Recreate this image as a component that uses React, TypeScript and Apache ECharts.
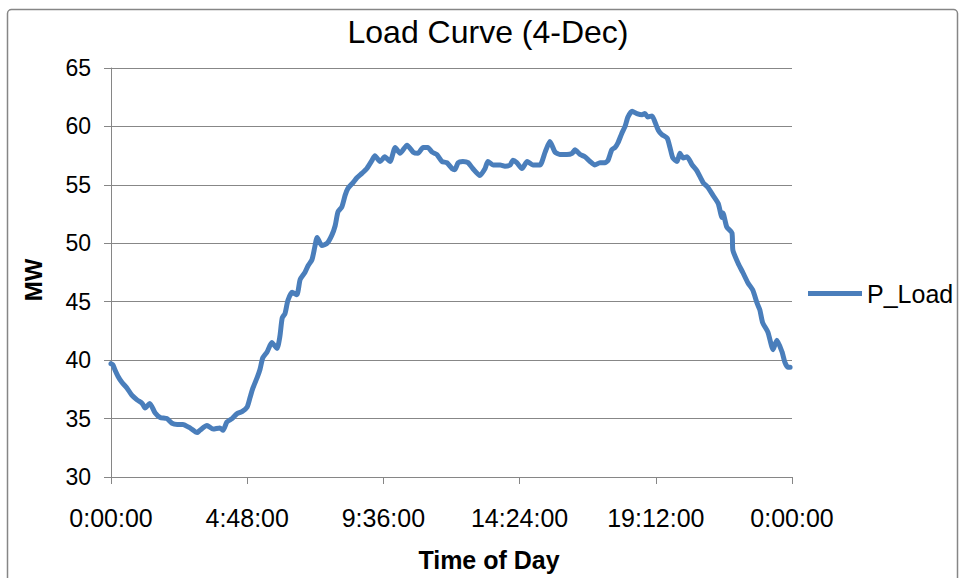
import React, { useEffect, useRef } from "react";
import * as echarts from "echarts";

// Minutes after midnight for each reading
const minutes = [
  0, 4, 8, 15, 23, 34, 44, 55, 66, 72, 82, 93, 104, 118, 129, 140, 152, 167, 182, 188,
  203, 216, 230, 237, 245, 256, 266, 277, 288, 294, 300, 309, 315, 321, 330, 340, 351, 357, 362, 368,
  374, 383, 393, 400, 410, 417, 425, 431, 436, 446, 457, 467, 474, 480, 488, 495, 501, 512, 520, 531,
  541, 552, 558, 569, 579, 590, 601, 611, 626, 639, 649, 660, 670, 679, 689, 700, 710, 721, 727, 734,
  744, 755, 765, 780, 791, 797, 808, 823, 833, 844, 850, 858, 869, 880, 892, 907, 918, 928, 939, 949,
  964, 975, 981, 992, 1002, 1013, 1023, 1034, 1045, 1051, 1059, 1066, 1072, 1080, 1087, 1093, 1102, 1112, 1123, 1129,
  1135, 1144, 1150, 1157, 1165, 1176, 1182, 1188, 1197, 1203, 1210, 1218, 1229, 1239, 1252, 1262, 1273, 1284, 1292, 1294,
  1302, 1313, 1315, 1326, 1336, 1347, 1357, 1366, 1372, 1378, 1389, 1400, 1408, 1419, 1425, 1431, 1436,
];

// Load in MW at each reading
const pLoad = [
  39.7, 39.6, 39.2, 38.6, 38.1, 37.6, 37.0, 36.6, 36.3, 35.9, 36.3, 35.5, 35.1, 35.0, 34.6, 34.5, 34.5, 34.2, 33.8, 34.0,
  34.4, 34.1, 34.2, 34.0, 34.7, 35.0, 35.4, 35.6, 36.0, 36.8, 37.6, 38.5, 39.2, 40.2, 40.7, 41.5, 41.0, 42.0, 43.6, 44.0,
  45.1, 45.8, 45.6, 46.9, 47.5, 48.1, 48.6, 49.7, 50.5, 49.8, 50.0, 50.7, 51.5, 52.7, 53.1, 54.1, 54.7, 55.2, 55.6, 56.0,
  56.4, 57.1, 57.5, 57.0, 57.4, 57.0, 58.2, 57.7, 58.4, 57.8, 57.7, 58.2, 58.2, 57.8, 57.6, 57.0, 56.9, 56.4, 56.3, 56.9,
  57.0, 56.9, 56.4, 55.8, 56.4, 57.0, 56.7, 56.7, 56.6, 56.7, 57.1, 56.9, 56.4, 57.0, 56.7, 56.7, 57.8, 58.7, 57.8, 57.6,
  57.6, 57.7, 58.0, 57.6, 57.4, 57.0, 56.7, 56.9, 56.9, 57.1, 58.0, 58.2, 58.6, 59.4, 60.0, 60.8, 61.3, 61.1, 61.0, 61.1,
  60.8, 60.9, 60.4, 59.7, 59.3, 59.0, 58.2, 57.3, 57.0, 57.7, 57.3, 57.4, 56.7, 56.2, 55.2, 54.8, 54.1, 53.4, 52.2, 52.6,
  51.4, 50.9, 49.4, 48.3, 47.5, 46.6, 46.0, 44.9, 44.3, 43.2, 42.4, 40.9, 41.7, 40.7, 39.8, 39.4, 39.4,
];

const seriesName = "P_Load";
const chartTitle = "Load Curve (4-Dec)";
const xAxisTitle = "Time of Day";
const yAxisTitle = "MW";

const FONT = "'Liberation Sans', Arial, sans-serif";
const LINE_BLUE = "#4A7EBB";

function formatTime(m: number): string {
  const total = Math.round(m) % 1440;
  const h = Math.floor(total / 60);
  const mm = total % 60;
  return `${h}:${mm < 10 ? "0" : ""}${mm}:00`;
}

export default function App() {
  const ref = useRef<HTMLDivElement>(null);

  useEffect(() => {
    if (!ref.current) return;
    const chart = echarts.init(ref.current, null, { renderer: "svg" });
    const data = minutes.map((m, i) => [m, pLoad[i]]);

    chart.setOption({
      animation: false,
      backgroundColor: "#ffffff",
      grid: { left: 111, right: 169, top: 68, bottom: 101, containLabel: false },
      xAxis: {
        type: "value",
        min: 0,
        max: 1440,
        interval: 288,
        axisLine: { show: true, lineStyle: { color: "#868686", width: 1 } },
        axisTick: { show: true, length: 7, lineStyle: { color: "#868686" } },
        axisLabel: {
          formatter: (v: number) => formatTime(v),
          margin: 28,
          fontSize: 25,
          fontFamily: FONT,
          color: "#000000",
        },
        splitLine: { show: false },
      },
      yAxis: {
        type: "value",
        min: 30,
        max: 65,
        interval: 5,
        axisLine: { show: true, lineStyle: { color: "#868686", width: 1 } },
        axisTick: { show: true, inside: false, length: 7, lineStyle: { color: "#868686" } },
        axisLabel: {
          margin: 20,
          fontSize: 23,
          fontFamily: FONT,
          color: "#000000",
        },
        splitLine: { show: true, lineStyle: { color: "#878787", width: 1 } },
      },
      legend: {
        show: true,
        left: 808,
        top: 281,
        padding: 0,
        orient: "vertical",
        icon: "rect",
        itemWidth: 54,
        itemHeight: 5,
        textStyle: { fontSize: 25, fontFamily: FONT, color: "#000000" },
        data: [{ name: seriesName, itemStyle: { color: LINE_BLUE } }],
      },
      series: [
        {
          name: seriesName,
          type: "line",
          data,
          showSymbol: false,
          symbol: "none",
          smooth: 0.2,
          lineStyle: { color: LINE_BLUE, width: 5, cap: "round", join: "round" },
          itemStyle: { color: LINE_BLUE },
        },
      ],
      graphic: [
        {
          type: "rect",
          left: 5,
          top: 7,
          shape: { width: 950, height: 620, r: 4 },
          style: { fill: "none", stroke: "#868686", lineWidth: 1.5 },
          silent: true,
          z: -1,
        },
        {
          type: "text",
          x: 488,
          y: 32,
          style: {
            text: chartTitle,
            align: "center",
            verticalAlign: "middle",
            font: `32px ${FONT}`,
            fill: "#000000",
          },
        },
        {
          type: "text",
          x: 489,
          y: 560,
          style: {
            text: xAxisTitle,
            align: "center",
            verticalAlign: "middle",
            font: `bold 25px ${FONT}`,
            fill: "#000000",
          },
        },
        {
          type: "text",
          x: 33,
          y: 280,
          rotation: Math.PI / 2,
          style: {
            text: yAxisTitle,
            align: "center",
            verticalAlign: "middle",
            font: `bold 24px ${FONT}`,
            fill: "#000000",
          },
        },
      ],
    });

    return () => chart.dispose();
  }, []);

  return (
    <div
      ref={ref}
      style={{ position: "fixed", left: 0, top: 0, width: 961, height: 578 }}
    />
  );
}
